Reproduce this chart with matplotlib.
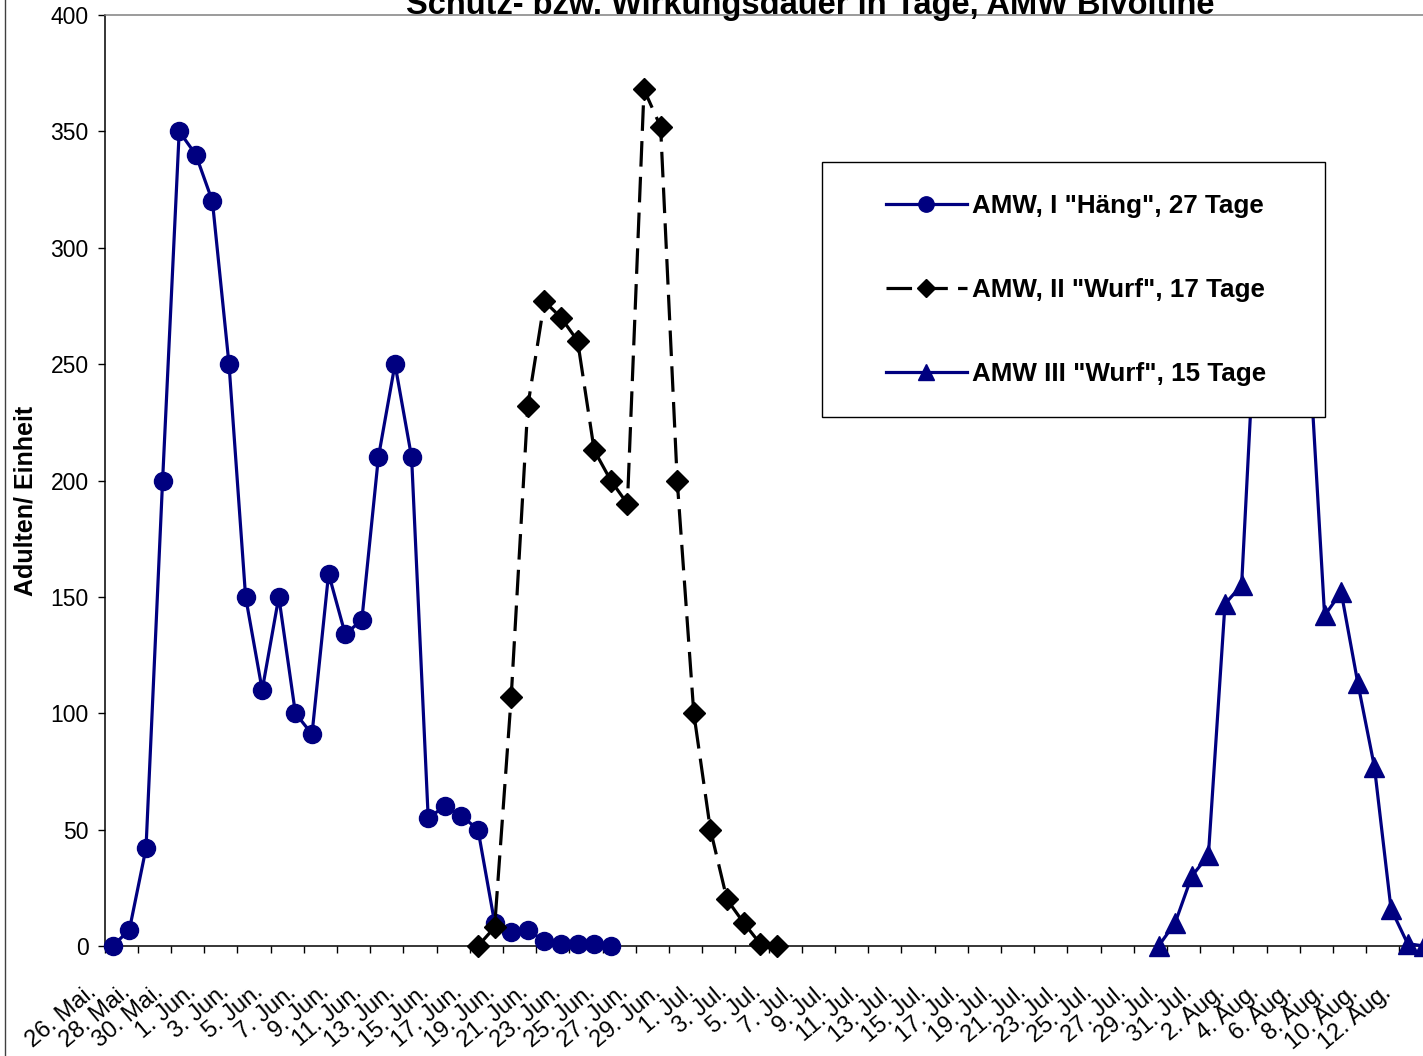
import numpy as np
import matplotlib
matplotlib.use("Agg")
import matplotlib.pyplot as plt
from matplotlib.transforms import ScaledTranslation
from matplotlib.patches import Rectangle
from matplotlib.lines import Line2D

plt.rcParams['font.family'] = ['Liberation Sans', 'DejaVu Sans']

# --- data (day index 0 = 26. Mai) ---
tick_labels = [
    "26. Mai.", "28. Mai.", "30. Mai.",
    "1. Jun.", "3. Jun.", "5. Jun.", "7. Jun.", "9. Jun.", "11. Jun.", "13. Jun.",
    "15. Jun.", "17. Jun.", "19. Jun.", "21. Jun.", "23. Jun.", "25. Jun.", "27. Jun.", "29. Jun.",
    "1. Jul.", "3. Jul.", "5. Jul.", "7. Jul.", "9. Jul.", "11. Jul.", "13. Jul.", "15. Jul.",
    "17. Jul.", "19. Jul.", "21. Jul.", "23. Jul.", "25. Jul.", "27. Jul.", "29. Jul.", "31. Jul.",
    "2. Aug.", "4. Aug.", "6. Aug.", "8. Aug.", "10. Aug.", "12. Aug.",
]
n_days = 80

haeng_start = 0
haeng = [0, 7, 42, 200, 350, 340, 320, 250, 150, 110, 150, 100, 91, 160, 134,
         140, 210, 250, 210, 55, 60, 56, 50, 10, 6, 7, 2, 1, 1, 1, 0]

wurf2_start = 22
wurf2 = [0, 8, 107, 232, 277, 270, 260, 213, 200, 190, 368, 352, 200, 100,
         50, 20, 10, 1, 0]

wurf3_start = 63
wurf3 = [0, 10, 30, 39, 147, 155, 293, 320, 300, 265, 142, 152, 113, 77, 16, 1, 0]

labels = ['AMW, I "Häng", 27 Tage', 'AMW, II "Wurf", 17 Tage', 'AMW III "Wurf", 15 Tage']

# --- figure ---
W, H = 1423, 1056
fig = plt.figure(figsize=(W / 100, H / 100), dpi=100)
ax = fig.add_axes([104.5 / W, 110 / H, 1328 / W, 931 / H])

navy = '#000080'
x1 = np.arange(haeng_start, haeng_start + len(haeng))
x2 = np.arange(wurf2_start, wurf2_start + len(wurf2))
x3 = np.arange(wurf3_start, wurf3_start + len(wurf3))

ax.plot(x1, haeng, color=navy, lw=2.3, marker='o', ms=13, label=labels[0],
        clip_on=False, zorder=3)
ax.plot(x2, wurf2, color='black', lw=2.3, dashes=(8, 3.2), marker='D', ms=11,
        label=labels[1], clip_on=False, zorder=3)
ax.plot(x3, wurf3, color=navy, lw=2.3, marker='^', ms=14, label=labels[2],
        clip_on=False, zorder=3)

ax.set_xlim(-0.5, n_days - 0.5)
ax.set_ylim(0, 400)
ax.set_yticks(np.arange(0, 401, 50))
ax.tick_params(axis='y', direction='out', length=5, width=1, pad=6.5, labelsize=16.5)
ax.set_xticks(np.arange(-0.5, n_days, 2))
ax.set_xticklabels([])
ax.tick_params(axis='x', direction='out', length=5, width=1)

for side in ['left', 'bottom']:
    ax.spines[side].set_color('black')
    ax.spines[side].set_linewidth(1.1)
for side in ['top', 'right']:
    ax.spines[side].set_color('#808080')
    ax.spines[side].set_linewidth(1.1)

# rotated category labels
off = ScaledTranslation(-15 / 100, -48 / 100, fig.dpi_scale_trans)
trans = ax.get_xaxis_transform() + off
for i, lab in enumerate(tick_labels):
    ax.text(i * 2, 0, lab, transform=trans, rotation=40, rotation_mode='anchor',
            ha='right', va='baseline', fontsize=17, clip_on=False)

# legend box + legend
ax.add_patch(Rectangle((822 / W, 1 - 417 / H), 503 / W, 255 / H,
                       transform=fig.transFigure, facecolor='white',
                       edgecolor='black', lw=1.0, zorder=4, clip_on=False))
leg = ax.legend(loc='center left', bbox_to_anchor=(886 / W, 1 - 290 / H),
                bbox_transform=fig.transFigure, frameon=False, borderpad=0,
                borderaxespad=0, handlelength=3.1, handletextpad=0.2,
                labelspacing=2.3, markerscale=0.85,
                prop={'size': 18.7, 'weight': 'bold'})
leg.set_zorder(5)

# title & axis label
fig.text(810 / W, 1 - 14 / H, "Schutz- bzw. Wirkungsdauer in Tage, AMW Bivoltine",
         ha='center', va='baseline', fontsize=23.5, fontweight='bold')
fig.text(26 / W, 1 - 501 / H, "Adulten/ Einheit", rotation=90, ha='center',
         va='center', fontsize=18, fontweight='bold')

# chart-area border on the left
fig.add_artist(Line2D([4.5 / W, 4.5 / W], [0, 1], transform=fig.transFigure,
                      color='#404040', lw=1.0))

fig.savefig('out.png', dpi=100)
